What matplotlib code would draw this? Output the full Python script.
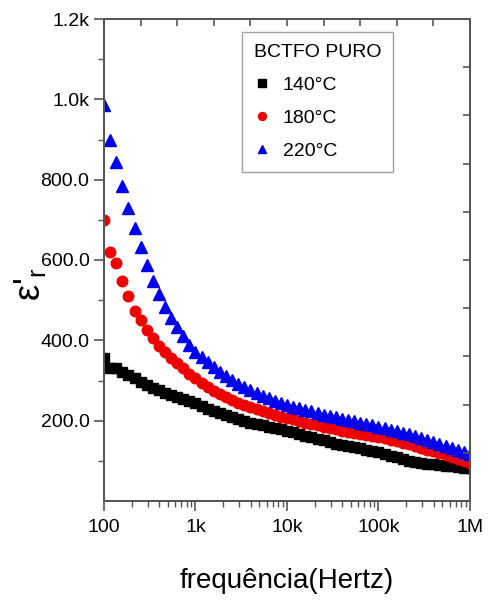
import numpy as np
import matplotlib
matplotlib.use("Agg")
import matplotlib.pyplot as plt
from matplotlib.ticker import NullLocator, FixedLocator, NullFormatter
from matplotlib import font_manager as fm

# ---------------- data ----------------
freq = np.logspace(2, 6, 61)  # measurement grid, 15 points per decade

eps_140 = [355, 332, 330, 320, 313, 305, 297, 289, 282, 276,
           270, 264, 259, 254, 249, 243, 236, 230, 224, 218,
           213, 208, 203, 199, 195, 191, 188, 185, 182, 179,
           175, 171, 167, 163, 159, 155, 151, 147, 143, 140,
           137, 134, 131, 128, 125, 121, 117, 113, 109, 104,
           100, 97, 95, 93, 91, 89, 88, 86, 85, 83, 82]

eps_180 = [700, 621, 593, 548, 511, 472, 450, 425, 405, 387,
           371, 356, 343, 330, 317, 305, 294, 284, 275, 267,
           259, 252, 245, 239, 234, 229, 224, 219, 215, 210,
           206, 203, 199, 195, 192, 188, 185, 182, 179, 175,
           172, 169, 167, 165, 163, 160, 157, 153, 149, 145,
           141, 136, 132, 128, 124, 120, 115, 110, 105, 100, 95]

eps_220 = [985, 900, 845, 785, 730, 680, 632, 588, 548, 515,
           483, 455, 432, 410, 388, 372, 358, 346, 334, 322,
           311, 301, 292, 284, 276, 269, 262, 256, 250, 244,
           239, 235, 231, 227, 223, 219, 215, 212, 208, 205,
           202, 198, 195, 192, 189, 185, 182, 178, 174, 170,
           166, 162, 157, 153, 148, 143, 138, 132, 127, 121, 116]

series_labels = ["140°C", "180°C", "220°C"]
legend_title = "BCTFO PURO"
x_ticks = [1e2, 1e3, 1e4, 1e5, 1e6]
x_ticklabels = ["100", "1k", "10k", "100k", "1M"]
y_ticks = [200, 400, 600, 800, 1000, 1200]
y_ticklabels = ["200.0", "400.0", "600.0", "800.0", "1.0k", "1.2k"]
x_label = "frequência(Hertz)"
y_label = "ε'$_r$"

# ---------------- fonts ----------------
names = {f.name for f in fm.fontManager.ttflist}
fam = [n for n in ["Liberation Sans Narrow", "Liberation Sans", "DejaVu Sans"] if n in names]
plt.rcParams['font.family'] = fam
plt.rcParams['mathtext.default'] = 'regular'
plt.rcParams['mathtext.fontset'] = 'custom'
plt.rcParams['mathtext.rm'] = fam[0]
plt.rcParams['mathtext.it'] = fam[0]

fig = plt.figure(figsize=(4.89, 6.0), dpi=100)
ax = fig.add_axes([104/489, 99/600, (470-104)/489, (501-19)/600])

ax.plot(freq, eps_140, ls='none', marker='s', ms=7.2, color='black', label=series_labels[0])
ax.plot(freq, eps_180, ls='none', marker='o', ms=7.6, color='#ee0000', mec='#ee0000', label=series_labels[1])
ax.plot(freq, eps_220, ls='none', marker='^', ms=8.6, color='#0000ee', mec='#0000ee', label=series_labels[2])

ax.set_xscale('log')
ax.set_xlim(100, 1e6)
ax.set_ylim(0, 1200)

spine_c = '#555555'
for s in ax.spines.values():
    s.set_color(spine_c)
    s.set_linewidth(1.4)

ax.set_xticks(x_ticks)
ax.set_xticklabels(x_ticklabels)
ax.set_yticks(y_ticks)
ax.set_yticklabels(y_ticklabels)
ax.yaxis.set_minor_locator(FixedLocator(np.arange(100, 1200, 200)))
ax.tick_params(axis='both', which='major', direction='out', length=7, width=1.2,
               color=spine_c, labelsize=14, top=False, right=False)
ax.tick_params(axis='both', which='minor', direction='out', length=4, width=1.0,
               color=spine_c, top=False, right=False)
ax.tick_params(axis='x', which='major', pad=6)

# mirror axes (top / right) with their own evenly spaced ticks
axt = ax.twiny()
axt.set_xscale('log')
axt.set_xlim(ax.get_xlim())
axt.xaxis.set_major_locator(FixedLocator([10 ** (2 + 0.4 * k) for k in range(1, 10)]))
axt.xaxis.set_minor_locator(NullLocator())
axt.xaxis.set_major_formatter(NullFormatter())
axt.tick_params(axis='x', direction='in', length=5, width=1.2, color=spine_c)

axr = ax.twinx()
axr.set_ylim(ax.get_ylim())
axr.yaxis.set_major_locator(FixedLocator(np.arange(120, 1200, 120)))
axr.yaxis.set_minor_locator(NullLocator())
axr.yaxis.set_major_formatter(NullFormatter())
axr.tick_params(axis='y', direction='in', length=5, width=1.2, color=spine_c)
for a in (axt, axr):
    for s in a.spines.values():
        s.set_color(spine_c)
        s.set_linewidth(1.4)

ax.set_xlabel(x_label, fontsize=20, labelpad=23)
fig.text(30/489, 1 - 284/600, y_label, fontsize=26, rotation=90, ha='center', va='center')

leg = ax.legend(title=legend_title, loc='upper left', bbox_to_anchor=((242-104)/366, (501-32)/482),
                borderaxespad=0, fontsize=14, title_fontsize=14, frameon=True, fancybox=False,
                edgecolor='#888888', handletextpad=0.6, borderpad=0.6,
                labelspacing=0.8, markerscale=0.75, handlelength=0.9, alignment='left')
leg.get_frame().set_linewidth(1.0)
leg.set_zorder(10)

fig.savefig("out.png", dpi=100)
